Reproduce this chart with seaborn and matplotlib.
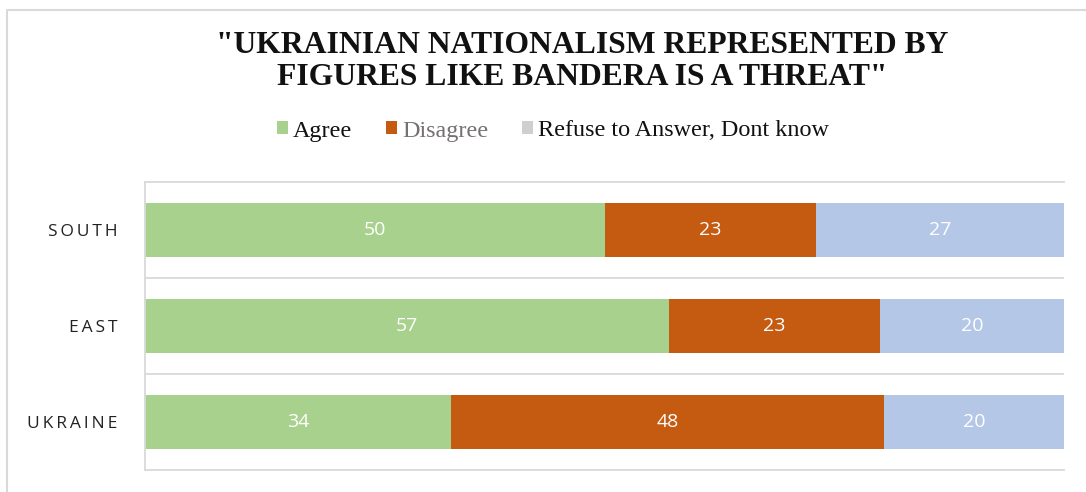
import numpy as np
import pandas as pd
import seaborn as sns
import matplotlib.pyplot as plt
from matplotlib.patches import Patch
from matplotlib.lines import Line2D

# Survey results (percent of respondents)
regions = ["SOUTH", "EAST", "UKRAINE"]
agree = [50, 57, 34]
disagree = [23, 23, 48]
refuse = [27, 20, 20]
series_names = ["Agree", "Disagree", "Refuse to Answer, Dont know"]
title = "\"UKRAINIAN NATIONALISM REPRESENTED BY\nFIGURES LIKE BANDERA IS A THREAT\""

GREEN = "#A9D18E"
ORANGE = "#C55A11"
BLUE = "#B4C7E7"
LEGEND_GRAY = "#D0CECE"
GRID = "#D9D9D9"

sns.set_theme(style="white")
plt.rcParams["font.family"] = ["Open Sans", "DejaVu Sans"]

W, H = 1086, 492
fig = plt.figure(figsize=(W / 100, H / 100), dpi=100)
fig.patch.set_facecolor("white")

# outer chart frame (left and top edges)
fig.add_artist(Line2D([6.5 / W, 6.5 / W, 1.0], [0.0, 1 - 9.5 / H, 1 - 9.5 / H],
                      transform=fig.transFigure, color=GRID, lw=1.5))

ax = fig.add_axes([145 / W, 1 - 469.5 / H, (1064 - 145) / W, (469.5 - 182) / H])

df = pd.DataFrame({"region": regions, "agree": agree,
                   "disagree": disagree, "refuse": refuse})
# 100% stacked: each row is scaled to its own total
total = df["agree"] + df["disagree"] + df["refuse"]
df["cum_agree"] = 100 * df["agree"] / total
df["cum_disagree"] = 100 * (df["agree"] + df["disagree"]) / total
df["cum_refuse"] = 100 * total / total

# stacked bars: draw the running totals from the longest to the shortest
for col, color in [("cum_refuse", BLUE), ("cum_disagree", ORANGE), ("cum_agree", GREEN)]:
    sns.barplot(data=df, y="region", x=col, order=regions, color=color,
                saturation=1, width=0.5625, orient="h", linewidth=0, ax=ax)

# value labels in the middle of each segment
for i, row in df.iterrows():
    left = 0.0
    for key in ["agree", "disagree", "refuse"]:
        v = row[key]
        share = 100 * v / total[i]
        ax.text(left + share / 2, i, f"{v}", ha="center", va="center",
                color="white", fontsize=14, family=["Open Sans", "DejaVu Sans"])
        left += share

ax.set_xlim(0, 100)
ax.set_ylim(2.5, -0.5)
ax.set_xticks([])
ax.set_xlabel("")
ax.set_ylabel("")
ax.set_yticks(range(len(regions)))
ax.set_yticklabels(["\u2009".join(r) for r in regions])
ax.set_yticks([0.5, 1.5], minor=True)
ax.grid(True, which="minor", axis="y", color=GRID, lw=1.3)
ax.set_axisbelow(True)
ax.tick_params(axis="y", which="both", length=0, pad=20)
for lbl in ax.get_yticklabels():
    lbl.set_fontsize(12.5)
    lbl.set_color("#222222")
    lbl.set_family(["Open Sans", "DejaVu Sans"])
for side in ["left", "top", "bottom"]:
    ax.spines[side].set_color(GRID)
    ax.spines[side].set_linewidth(1.3)
ax.spines["right"].set_visible(False)

fig.text(582 / W, 1 - 31 / H, title, ha="center", va="top",
         fontsize=22.8, fontweight="bold", family="Liberation Serif",
         color="#111111", linespacing=1.13)

handles = [Patch(facecolor=c, edgecolor="none") for c in [GREEN, ORANGE, LEGEND_GRAY]]
leg = fig.legend(handles, series_names, loc="center", bbox_to_anchor=(553 / W, 1 - 131 / H),
                 ncol=3, frameon=False,
                 prop={"family": "Liberation Serif", "size": 17.4},
                 handlelength=0.45, handleheight=0.45, handletextpad=0.2,
                 columnspacing=1.4)
for t, c in zip(leg.get_texts(), ["#111111", "#767171", "#111111"]):
    t.set_color(c)

fig.savefig("out.png", dpi=100)
